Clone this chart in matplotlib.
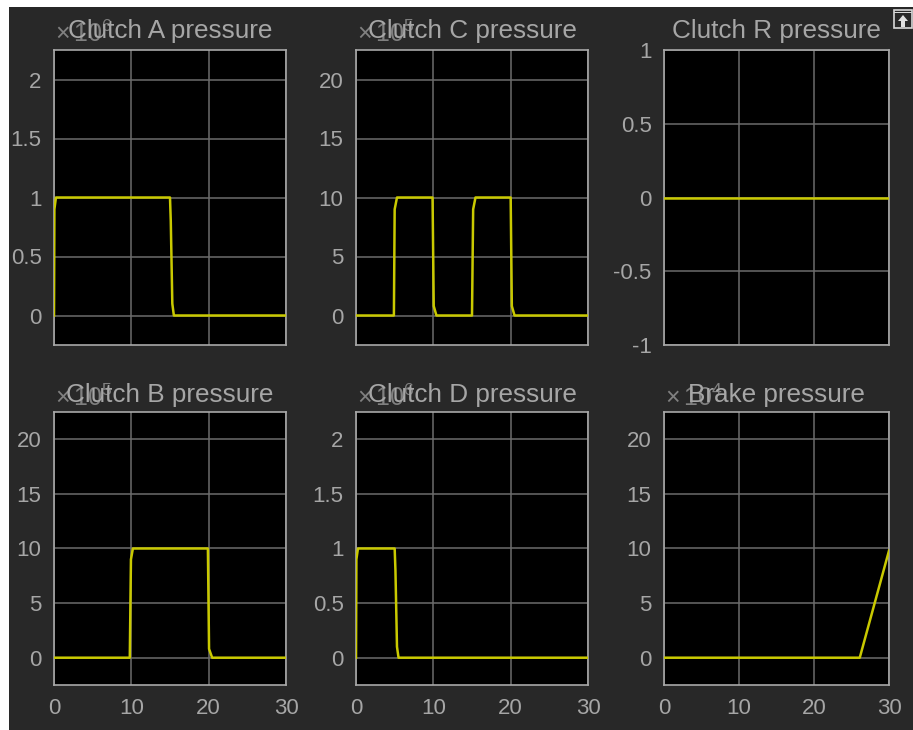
import matplotlib
matplotlib.use("Agg")
import matplotlib.pyplot as plt
from matplotlib.patches import Rectangle, Polygon

W, H = 913, 730
BG = "#282828"
TXT = "#a6a6a6"
GRID = "#6c6c6c"
SPINE = "#a8a8a8"
LINE = "#c9c900"

plt.rcParams["font.family"] = ["Liberation Sans", "DejaVu Sans"]
plt.rcParams["mathtext.fontset"] = "custom"
plt.rcParams["mathtext.rm"] = "Liberation Sans"
plt.rcParams["mathtext.default"] = "regular"

titles = ["Clutch A pressure", "Clutch C pressure", "Clutch R pressure",
          "Clutch B pressure", "Clutch D pressure", "Brake pressure"]
exponents = [6, 5, None, 5, 6, 4]

time_a = [0, 0.05, 0.25, 15.0, 15.1, 15.3, 15.5, 30]
pressure_a = [0, 0.9, 1, 1, 0.8, 0.1, 0, 0]
time_c = [0, 4.9, 5.0, 5.3, 9.9, 10.05, 10.4, 15.0, 15.15, 15.45, 20.0, 20.15, 20.5, 30]
pressure_c = [0, 0, 9, 10, 10, 0.8, 0, 0, 9, 10, 10, 0.8, 0, 0]
time_r = [0, 30]
pressure_r = [0, 0]
time_b = [0, 9.8, 9.95, 10.2, 19.9, 20.05, 20.45, 30]
pressure_b = [0, 0, 9, 10, 10, 0.8, 0, 0]
time_d = [0, 0.05, 0.25, 5.0, 5.1, 5.3, 5.5, 30]
pressure_d = [0, 0.9, 1, 1, 0.8, 0.1, 0, 0]
time_brake = [0, 26.1, 30]
pressure_brake = [0, 0, 9.8]

times = [time_a, time_c, time_r, time_b, time_d, time_brake]
pressures = [pressure_a, pressure_c, pressure_r, pressure_b, pressure_d, pressure_brake]

xticks = [0, 10, 20, 30]
small_ticks = [0, 0.5, 1, 1.5, 2]
large_ticks = [0, 5, 10, 15, 20]
r_ticks = [-1, -0.5, 0, 0.5, 1]
yticks_all = [small_ticks, large_ticks, r_ticks, large_ticks, small_ticks, large_ticks]
ylims = [(-0.25, 2.25), (-2.5, 22.5), (-1, 1), (-2.5, 22.5), (-0.25, 2.25), (-2.5, 22.5)]

# panel boxes in reference pixels: left, right, top, bottom
boxes = [(54, 286, 50, 345), (356, 588, 50, 345), (664, 889, 50, 345),
         (54, 286, 412, 685), (356, 588, 412, 685), (664, 889, 412, 685)]

fig = plt.figure(figsize=(W / 100, H / 100), dpi=100, facecolor="white")
fig.add_artist(Rectangle((9 / W, 0), 1 - 9 / W, 1 - 7 / H, transform=fig.transFigure,
                         facecolor=BG, edgecolor="none", zorder=-5))


def fx(px):
    return px / W


def fy(px):
    return 1 - px / H


for i, (l, r, t, b) in enumerate(boxes):
    ax = fig.add_axes([fx(l), fy(b), (r - l) / W, (b - t) / H], facecolor="black")
    ax.plot(times[i], pressures[i], color=LINE, lw=1.8, solid_joinstyle="round", zorder=3)
    ax.set_xlim(0, 30)
    ax.set_ylim(*ylims[i])
    ax.set_xticks(xticks)
    ax.set_yticks(yticks_all[i])
    ax.set_yticklabels([f"{v:g}" for v in yticks_all[i]])
    ax.grid(True, color=GRID, lw=1.1)
    ax.set_axisbelow(True)
    ax.tick_params(axis="y", length=0, pad=9, labelsize=16, labelcolor=TXT)
    ax.tick_params(axis="x", length=0, pad=9.5, labelsize=16, labelcolor=TXT,
                   labelbottom=i >= 3)
    for s in ax.spines.values():
        s.set_color(SPINE)
        s.set_linewidth(1.2)
    title_y = 38 if i < 3 else 402
    fig.text(fx((l + r) / 2), fy(title_y), titles[i], ha="center", va="baseline",
             fontsize=18.8, color=TXT)
    if exponents[i] is not None:
        fig.text(fx(l + 1), fy(title_y + 4), rf"$\times\,10^{{{exponents[i]}}}$",
                 ha="left", va="baseline", fontsize=18, color=TXT, alpha=0.7)

# figure toolbar button, top right
fig.add_artist(Rectangle((fx(894), fy(28)), 18 / W, 18 / H, transform=fig.transFigure,
                         facecolor=BG, edgecolor="#d8d8d8", lw=1.2))
fig.add_artist(Rectangle((fx(894), fy(13)), 18 / W, 1 / H, transform=fig.transFigure,
                         facecolor="#d8d8d8", edgecolor="none"))
fig.add_artist(Polygon([(fx(898), fy(21)), (fx(903), fy(15)), (fx(908), fy(21)),
                        (fx(905), fy(21)), (fx(905), fy(27)), (fx(901), fy(27)),
                        (fx(901), fy(21))],
                       closed=True, transform=fig.transFigure,
                       facecolor="#e0e0e0", edgecolor="none"))

fig.savefig("out.png", dpi=100, facecolor=fig.get_facecolor())
